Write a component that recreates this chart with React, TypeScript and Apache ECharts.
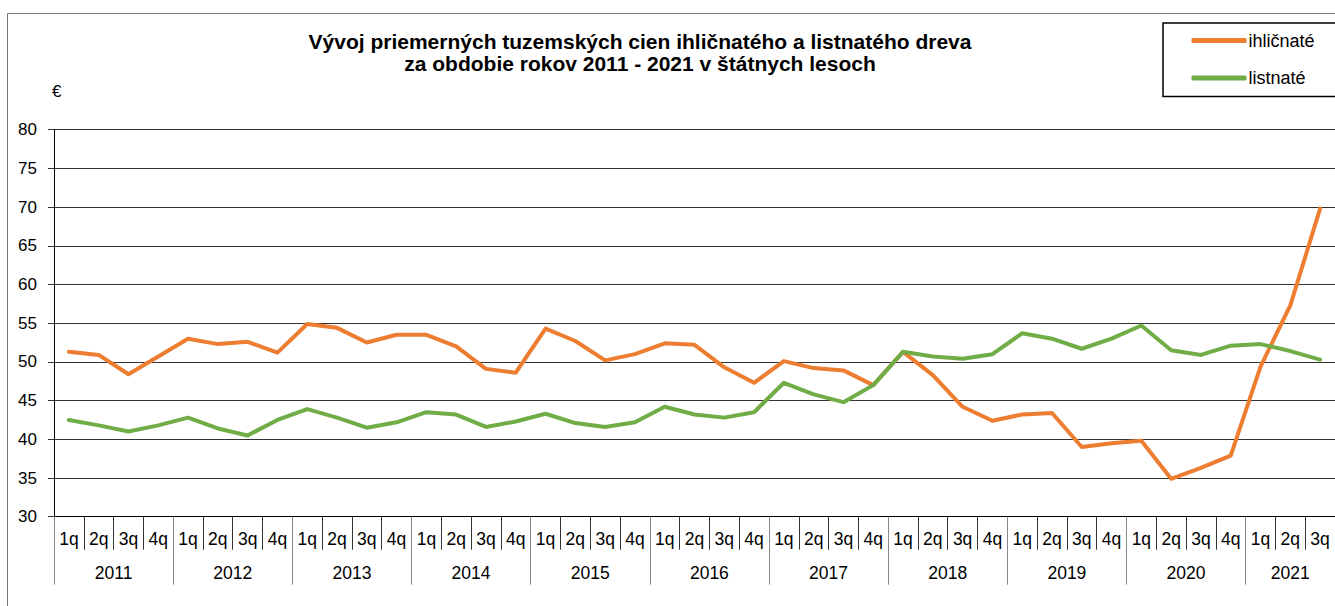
import React, { useEffect, useRef } from "react";
import * as echarts from "echarts";

const years = ["2011", "2012", "2013", "2014", "2015", "2016", "2017", "2018", "2019", "2020", "2021"];
const quarterNames = ["1q", "2q", "3q", "4q"];
const quartersInYear = [4, 4, 4, 4, 4, 4, 4, 4, 4, 4, 3];

const ihlicnate = [
  51.3, 50.9, 48.4, 50.7,
  53.0, 52.3, 52.6, 51.2,
  54.9, 54.4, 52.5, 53.5,
  53.5, 52.0, 49.1, 48.6,
  54.3, 52.7, 50.2, 51.0,
  52.4, 52.2, 49.3, 47.3,
  50.1, 49.2, 48.9, 47.0,
  51.3, 48.3, 44.2, 42.4,
  43.2, 43.4, 39.0, 39.5,
  39.8, 34.9, 36.3, 37.9,
  49.4, 57.3, 69.8,
];

const listnate = [
  42.5, 41.8, 41.0, 41.8,
  42.8, 41.4, 40.5, 42.5,
  43.9, 42.8, 41.5, 42.2,
  43.5, 43.2, 41.6, 42.3,
  43.3, 42.1, 41.6, 42.2,
  44.2, 43.2, 42.8, 43.5,
  47.3, 45.8, 44.8, 47.0,
  51.3, 50.7, 50.4, 51.0,
  53.7, 53.0, 51.7, 53.0,
  54.7, 51.5, 50.9, 52.1,
  52.3, 51.4, 50.3,
];

const categories: string[] = [];
const yearBounds: number[] = [0];
const yearCenters: number[] = [];
{
  let pos = 0;
  quartersInYear.forEach((n) => {
    for (let q = 0; q < n; q++) categories.push(quarterNames[q]);
    yearCenters.push(pos + n / 2);
    pos += n;
    yearBounds.push(pos);
  });
}

const FONT = "Arial, 'Liberation Sans', sans-serif";
const ORANGE = "#ED7D31";
const GREEN = "#70AD47";

export default function App() {
  const ref = useRef<HTMLDivElement>(null);
  useEffect(() => {
    if (!ref.current) return;
    const chart = echarts.init(ref.current, undefined, { renderer: "svg" });
    chart.setOption({
      animation: false,
      backgroundColor: "#fff",
      textStyle: { fontFamily: FONT },
      grid: { left: 54, right: 0, top: 129.7, bottom: 89.3, containLabel: false },
      legend: {
        orient: "vertical",
        left: 1163,
        top: 23,
        padding: [8.5, 40, 9.5, 28.5],
        itemGap: 19.5,
        itemWidth: 55,
        itemHeight: 5,
        icon: "roundRect",
        borderColor: "#000",
        borderWidth: 1.5,
        borderRadius: 0,
        textStyle: { fontFamily: FONT, fontSize: 18, color: "#000", padding: [0, 0, 0, -3] },
        data: [
          { name: "ihličnaté", itemStyle: { color: ORANGE } },
          { name: "listnaté", itemStyle: { color: GREEN } },
        ],
      },
      graphic: [
        {
          type: "rect",
          shape: { x: 7.5, y: 13.5, width: 1400, height: 700 },
          style: { fill: "none", stroke: "#777", lineWidth: 1 },
          silent: true,
        },
        {
          type: "text",
          x: 640,
          y: 30.5,
          style: {
            text: "Vývoj priemerných tuzemských cien ihličnatého a listnatého dreva\nza obdobie rokov 2011 - 2021 v štátnych lesoch",
            font: `bold 21px ${FONT}`,
            fill: "#000",
            align: "center",
            verticalAlign: "top",
            lineHeight: 22,
          },
        },
        {
          type: "text",
          x: 52,
          y: 83,
          style: { text: "€", font: `17px ${FONT}`, fill: "#000" },
        },
      ],
      xAxis: [
        {
          type: "category",
          data: categories,
          boundaryGap: true,
          axisLine: { show: true, lineStyle: { color: "#000", width: 1 } },
          axisTick: { show: true, interval: 0, length: 33, lineStyle: { color: "#333", width: 1 } },
          axisLabel: { interval: 0, margin: 13, fontSize: 17.5, color: "#000", fontFamily: FONT },
          splitLine: { show: false },
        },
        {
          type: "value",
          min: 0,
          max: categories.length,
          position: "bottom",
          axisLine: { show: false },
          axisTick: {
            show: true,
            customValues: yearBounds,
            length: 68,
            lineStyle: { color: "#888", width: 1 },
          },
          axisLabel: {
            customValues: yearCenters,
            margin: 47,
            fontSize: 17.5,
            color: "#000",
            fontFamily: FONT,
            showMinLabel: true,
            showMaxLabel: true,
            formatter: (v: number) => {
              const i = yearCenters.findIndex((c) => Math.abs(c - v) < 1e-6);
              return i >= 0 ? years[i] : "";
            },
          },
          splitLine: { show: false },
        },
      ],
      yAxis: {
        type: "value",
        min: 30,
        max: 80,
        interval: 5,
        axisLine: { show: true, lineStyle: { color: "#000", width: 1 } },
        axisTick: { show: true, length: 6, lineStyle: { color: "#333" } },
        axisLabel: { margin: 17, fontSize: 17, color: "#000", fontFamily: FONT },
        splitLine: { show: true, lineStyle: { color: "#333", width: 1 } },
      },
      series: [
        {
          name: "ihličnaté",
          type: "line",
          xAxisIndex: 0,
          data: ihlicnate,
          symbol: "none",
          lineStyle: { color: ORANGE, width: 4, cap: "round", join: "round" },
          itemStyle: { color: ORANGE },
        },
        {
          name: "listnaté",
          type: "line",
          xAxisIndex: 0,
          data: listnate,
          symbol: "none",
          lineStyle: { color: GREEN, width: 4, cap: "round", join: "round" },
          itemStyle: { color: GREEN },
        },
      ],
    });
    return () => chart.dispose();
  }, []);
  return <div ref={ref} style={{ width: 1335, height: 606, position: "absolute", left: 0, top: 0 }} />;
}
